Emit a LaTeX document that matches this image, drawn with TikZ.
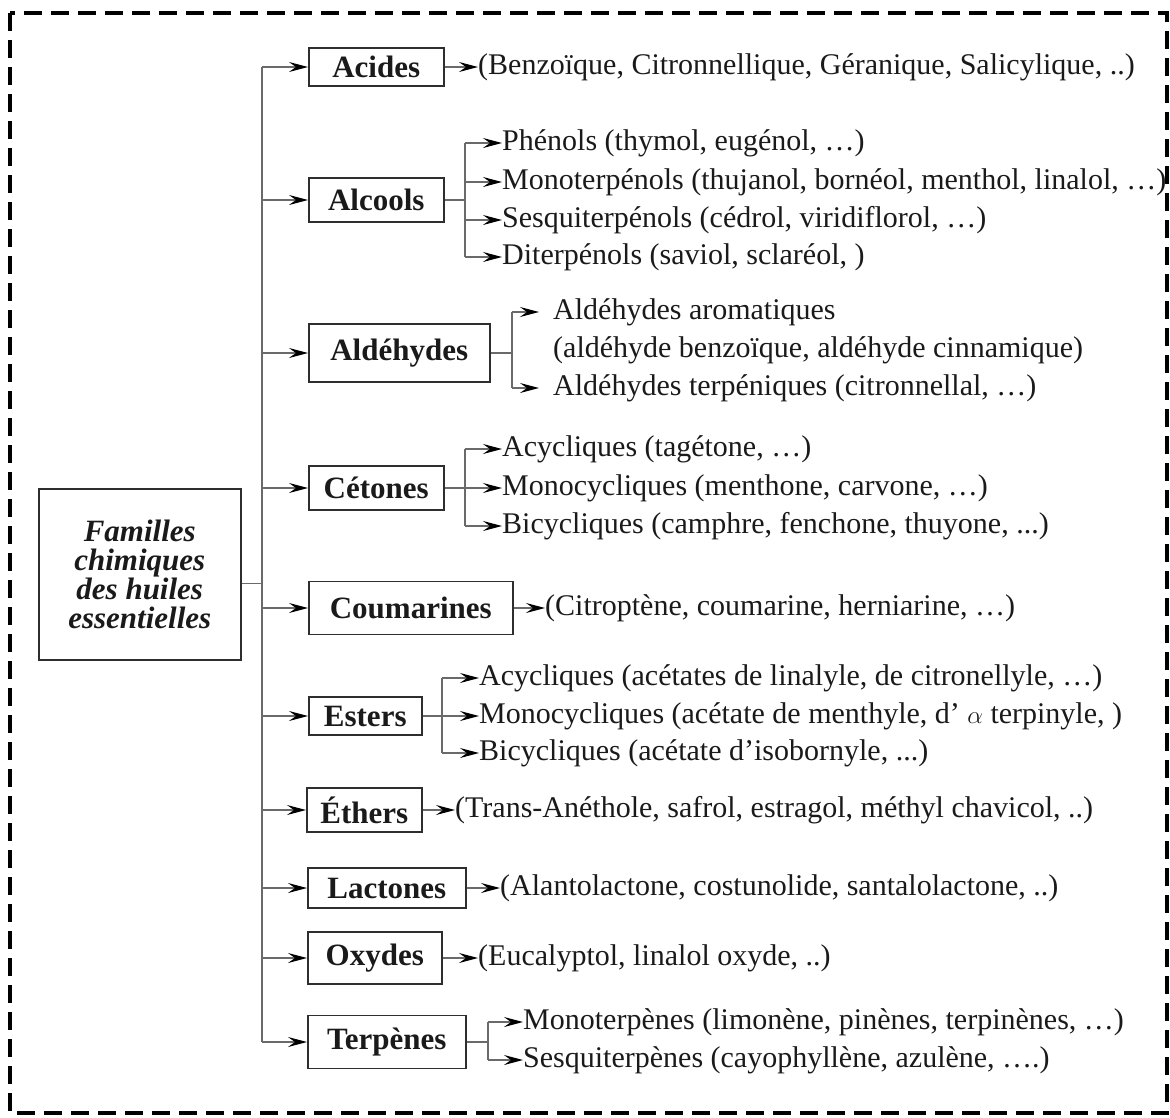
\documentclass[tikz,border=0pt]{standalone}
\usepackage{fontspec}
\setmainfont{Liberation Serif}
\usetikzlibrary{arrows.meta}
\definecolor{ink}{HTML}{1A1A1A}
\definecolor{edge}{HTML}{6A6A6A}
\definecolor{boxline}{HTML}{2E2E2E}
\begin{document}
\begin{tikzpicture}[x=1pt,y=-1pt,
  border/.style={line width=4.5pt,dash pattern=on 18pt off 9pt,black},
  conn/.style={draw=edge,line width=1.3pt},
  arr/.style={conn,-{Stealth[length=19pt,width=10pt,inset=7pt,black]}},
  cbox/.style={draw=boxline,line width=1.5pt,anchor=west,inner sep=0pt,
    text=ink,font=\fontsize{31}{33}\selectfont\bfseries},
  fbox/.style={draw=boxline,line width=1.5pt,anchor=north west,inner sep=0pt,
    text=ink,align=center,minimum width=202pt,minimum height=171pt,
    font=\fontsize{31}{29}\selectfont\bfseries\itshape},
  txt/.style={anchor=west,inner sep=0pt,text=ink,font=\fontsize{30}{32}\selectfont}
]
\useasboundingbox (0,0) rectangle (1170,1117);
\draw[border] (10,13) rectangle (1167,1113);

% main box
\node[fbox] (fam) at (38,488) {Familles\\chimiques\\des huiles\\essentielles};

% trunk
\coordinate (ttop) at (262,67);
\coordinate (tbot) at (262,1042);
\draw[conn] (ttop) -- (tbot);
\draw[conn] ([yshift=-9.5pt]fam.east) -- ([yshift=-9.5pt]fam.east -| ttop);

% family boxes
\node[cbox,minimum width=135pt,minimum height=38pt] (acides) at (308,67) {Acides};
\node[cbox,minimum width=135pt,minimum height=44pt] (alcools) at (308,200) {Alcools};
\node[cbox,minimum width=181pt,minimum height=58pt] (aldehydes) at (308,353) {Aldéhydes};
\node[cbox,minimum width=135pt,minimum height=44pt] (cetones) at (308,488) {Cétones};
\node[cbox,minimum width=204pt,minimum height=53pt] (coumarines) at (308,608) {Coumarines};
\node[cbox,minimum width=113pt,minimum height=38pt] (esters) at (308,716) {Esters};
\node[cbox,minimum width=115pt,minimum height=44pt] (ethers) at (306,810) {Éthers};
\node[cbox,minimum width=158pt,minimum height=40pt] (lactones) at (307,888) {Lactones};
\node[cbox,minimum width=134pt,minimum height=52pt] (oxydes) at (307,958) {Oxydes};
\node[cbox,minimum width=158pt,minimum height=53pt] (terpenes) at (307,1042) {Terpènes};

\foreach \b in {acides,alcools,aldehydes,cetones,coumarines,esters,ethers,lactones,oxydes,terpenes}
  \draw[arr] (ttop |- \b.west) -- (\b.west);

% single-line descriptions
\node[txt] (acT) at (478,67) {(Benzoïque, Citronnellique, Géranique, Salicylique, ..)};
\node[txt] (coT) at (545,608) {(Citroptène, coumarine, herniarine, …)};
\node[txt] (etT) at (455,810) {(Trans-Anéthole, safrol, estragol, méthyl chavicol, ..)};
\node[txt] (laT) at (500,888) {(Alantolactone, costunolide, santalolactone, ..)};
\node[txt] (oxT) at (478,958) {(Eucalyptol, linalol oxyde, ..)};
\draw[arr] (acides.east) -- (acT.west);
\draw[arr] (coumarines.east) -- (coT.west);
\draw[arr] (ethers.east) -- (etT.west);
\draw[arr] (lactones.east) -- (laT.west);
\draw[arr] (oxydes.east) -- (oxT.west);

% Alcools
\coordinate (alB) at (465,0);
\node[txt] (al1) at (502,143) {Phénols (thymol, eugénol, …)};
\node[txt] (al2) at (502,182) {Monoterpénols (thujanol, bornéol, menthol, linalol, …)};
\node[txt] (al3) at (502,220) {Sesquiterpénols (cédrol, viridiflorol, …)};
\node[txt] (al4) at (502,257) {Diterpénols (saviol, sclaréol, )};
\draw[conn] (alcools.east) -- (alcools.east -| alB);
\draw[conn] (al1.west -| alB) -- (al4.west -| alB);
\foreach \t in {al1,al2,al3,al4} \draw[arr] (\t.west -| alB) -- (\t.west);

% Aldehydes
\coordinate (adB) at (512,0);
\node[txt] (ad1) at (553,312) {Aldéhydes aromatiques};
\node[txt] (ad2) at (553,350) {(aldéhyde benzoïque, aldéhyde cinnamique)};
\node[txt] (ad3) at (553,388) {Aldéhydes terpéniques (citronnellal, …)};
\draw[conn] (aldehydes.east) -- (aldehydes.east -| adB);
\draw[conn] (ad1.west -| adB) -- (ad3.west -| adB);
\foreach \t in {ad1,ad3} \draw[arr] (\t.west -| adB) -- ([xshift=-14pt]\t.west);

% Cetones
\coordinate (ceB) at (465,0);
\node[txt] (ce1) at (502,449) {Acycliques (tagétone, …)};
\node[txt] (ce2) at (502,488) {Monocycliques (menthone, carvone, …)};
\node[txt] (ce3) at (502,526) {Bicycliques (camphre, fenchone, thuyone, ...)};
\draw[conn] (cetones.east) -- (cetones.east -| ceB);
\draw[conn] (ce1.west -| ceB) -- (ce3.west -| ceB);
\foreach \t in {ce1,ce2,ce3} \draw[arr] (\t.west -| ceB) -- (\t.west);

% Esters
\coordinate (esB) at (442,0);
\node[txt] (es1) at (479,678) {Acycliques (acétates de linalyle, de citronellyle, …)};
\node[txt] (es2) at (479,716) {Monocycliques (acétate de menthyle, d’ $\alpha$ terpinyle, )};
\node[txt] (es3) at (479,753) {Bicycliques (acétate d’isobornyle, ...)};
\draw[conn] (esters.east) -- (esters.east -| esB);
\draw[conn] (es1.west -| esB) -- (es3.west -| esB);
\foreach \t in {es1,es2,es3} \draw[arr] (\t.west -| esB) -- (\t.west);

% Terpenes
\coordinate (teB) at (488,0);
\node[txt] (te1) at (523,1022) {Monoterpènes (limonène, pinènes, terpinènes, …)};
\node[txt] (te2) at (523,1060) {Sesquiterpènes (cayophyllène, azulène, ….)};
\draw[conn] (terpenes.east) -- (terpenes.east -| teB);
\draw[conn] (te1.west -| teB) -- (te2.west -| teB);
\foreach \t in {te1,te2} \draw[arr] (\t.west -| teB) -- (\t.west);
\end{tikzpicture}
\end{document}
